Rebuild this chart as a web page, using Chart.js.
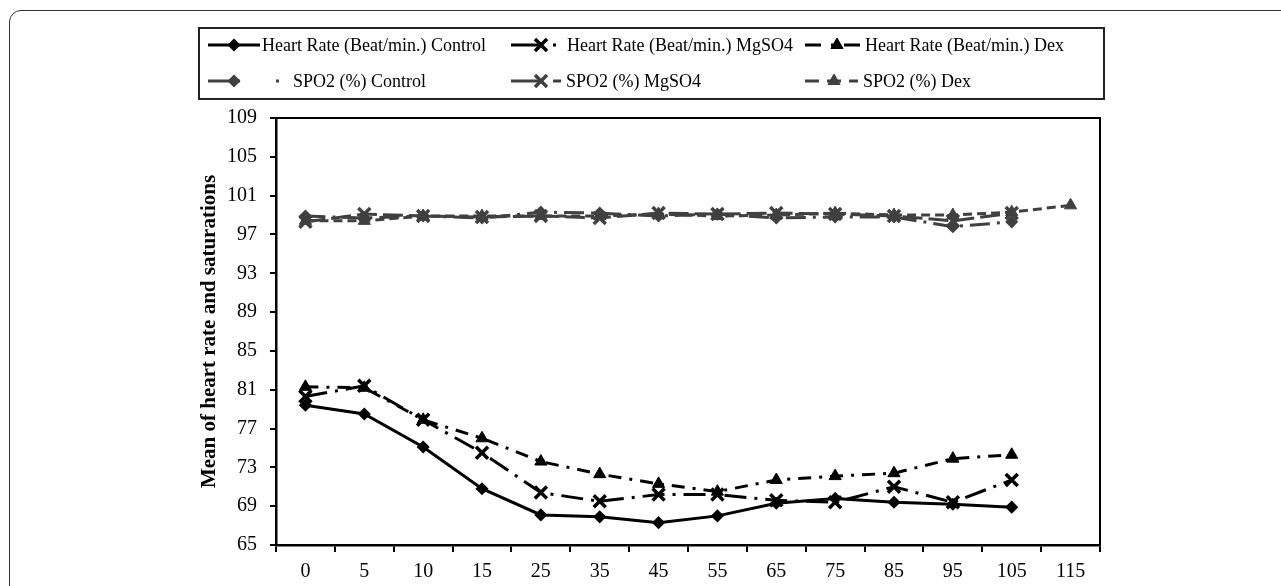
<!DOCTYPE html>
<html><head><meta charset="utf-8">
<script src="https://cdn.jsdelivr.net/npm/chart.js@4/dist/chart.umd.min.js"></script>
<style>
html,body{margin:0;padding:0;background:#fff;overflow:hidden;}
#wrap{position:relative;width:1281px;height:586px;overflow:hidden;}
#frame{position:absolute;left:9px;top:10px;width:1400px;height:700px;border:1.5px solid #333;border-radius:12px;box-sizing:border-box;}
canvas{position:absolute;left:0;top:0;}
</style></head><body>
<div id="wrap"><div id="frame"></div><canvas id="c" width="1281" height="586"></canvas></div>
<script>
// ---- data ----
const categories = ['0','5','10','15','25','35','45','55','65','75','85','95','105','115'];
const hrControl  = [79.4, 78.5, 75.1, 70.8, 68.1, 67.9, 67.3, 68.0, 69.3, 69.8, 69.4, 69.2, 68.9, null];
const hrMgSO4    = [80.3, 81.4, 77.9, 74.5, 70.4, 69.5, 70.2, 70.2, 69.6, 69.4, 71.0, 69.4, 71.7, null];
const hrDex      = [81.3, 81.2, 77.9, 76.0, 73.6, 72.3, 71.3, 70.5, 71.7, 72.1, 72.4, 73.9, 74.3, null];
const spo2Control= [98.9, 98.7, 98.9, 98.7, 99.3, 99.2, 98.9, 99.1, 98.7, 98.8, 98.8, 97.8, 98.3, null];
const spo2MgSO4  = [98.3, 99.1, 98.9, 98.8, 98.9, 98.7, 99.2, 99.1, 99.2, 99.1, 98.9, 98.4, 99.2, null];
const spo2Dex    = [98.4, 98.4, 98.9, 98.9, 98.9, 98.9, 99.1, 98.9, 99.0, 99.2, 99.0, 99.0, 99.3, 100.0];
const seriesLabels = ['Heart Rate (Beat/min.) Control','Heart Rate (Beat/min.) MgSO4','Heart Rate (Beat/min.) Dex',
                      'SPO2 (%) Control','SPO2 (%) MgSO4','SPO2 (%) Dex'];
const yMin = 65, yMax = 109, yStep = 4;
const yTitle = 'Mean of heart rate and saturations';

// ---- styles ----
const BLACK = '#000000', GRAY = '#404040';
function ds(label, data, color, dash, style, radius, pbw, width) {
  return { label, data, borderColor: color, backgroundColor: color, borderWidth: width, borderDash: dash,
    pointStyle: style, pointRadius: radius, pointHoverRadius: radius, pointBorderWidth: pbw,
    pointBackgroundColor: color, pointBorderColor: color, tension: 0, fill: false };
}
const datasets = [
  ds(seriesLabels[0], hrControl, BLACK, [], 'rectRot', 5.5, 1.5, 3),
  ds(seriesLabels[1], hrMgSO4, BLACK, [22,8,3,8], 'crossRot', 8.5, 3.5, 3),
  ds(seriesLabels[2], hrDex, BLACK, [13,8,3,8], 'triangle', 7, 1, 3),
  ds(seriesLabels[3], spo2Control, GRAY, [20,7,3,7], 'rectRot', 5.5, 1.5, 3),
  ds(seriesLabels[4], spo2MgSO4, GRAY, [20,6], 'crossRot', 8.5, 3.5, 3),
  ds(seriesLabels[5], spo2Dex, GRAY, [9,5], 'triangle', 7, 1, 3)
];

const legendSlots = [
  {x:208, y:45, len:52, m:26, tx:262, dash:null},
  {x:511, y:45, len:50, m:30, tx:567, dash:[30,12,3,12]},
  {x:805, y:45, len:56, m:32, tx:865, dash:[16,10,3,10]},
  {x:208, y:81, len:72, m:26, tx:293, dash:[32,36,3,10]},
  {x:511, y:81, len:50, m:30, tx:566, dash:[32,10]},
  {x:805, y:81, len:53, m:29, tx:863, dash:[14,8]}
];

function drawMarker(ctx, style, x, y, r, color, bw) {
  ctx.save(); ctx.setLineDash([]); ctx.fillStyle = color; ctx.strokeStyle = color; ctx.lineWidth = bw;
  ctx.beginPath();
  if (style === 'rectRot') {
    ctx.moveTo(x - r, y); ctx.lineTo(x, y - r); ctx.lineTo(x + r, y); ctx.lineTo(x, y + r); ctx.closePath();
    ctx.fill(); ctx.stroke();
  } else if (style === 'triangle') {
    let a = 0;
    ctx.moveTo(x + Math.sin(a) * r, y - Math.cos(a) * r);
    a += 2 * Math.PI / 3; ctx.lineTo(x + Math.sin(a) * r, y - Math.cos(a) * r);
    a += 2 * Math.PI / 3; ctx.lineTo(x + Math.sin(a) * r, y - Math.cos(a) * r);
    ctx.closePath(); ctx.fill(); ctx.stroke();
  } else if (style === 'crossRot') {
    const d = r * Math.SQRT1_2;
    ctx.moveTo(x - d, y - d); ctx.lineTo(x + d, y + d);
    ctx.moveTo(x + d, y - d); ctx.lineTo(x - d, y + d); ctx.stroke();
  }
  ctx.restore();
}

const legendPlugin = {
  id: 'gridLegend',
  afterDraw(chart) {
    const ctx = chart.ctx;
    ctx.save();
    ctx.strokeStyle = '#222'; ctx.lineWidth = 2;
    ctx.strokeRect(199, 28, 905, 71);
    chart.data.datasets.forEach((d, i) => {
      const s = legendSlots[i];
      ctx.save();
      ctx.strokeStyle = d.borderColor; ctx.lineWidth = d.borderWidth;
      ctx.setLineDash(s.dash || d.borderDash || []);
      ctx.beginPath(); ctx.moveTo(s.x, s.y); ctx.lineTo(s.x + s.len, s.y); ctx.stroke();
      ctx.restore();
      drawMarker(ctx, d.pointStyle, s.x + s.m, s.y, d.pointRadius, d.pointBackgroundColor, d.pointBorderWidth);
      ctx.fillStyle = '#000';
      ctx.font = '18px "Liberation Serif", "Times New Roman", serif';
      ctx.textBaseline = 'middle'; ctx.textAlign = 'left';
      ctx.fillText(d.label, s.tx, s.y + 1);
    });
    ctx.restore();
  }
};

const frameBorder = {
  id: 'frameBorder',
  afterDatasetsDraw(chart) {
    const {ctx, chartArea: a} = chart;
    ctx.save(); ctx.strokeStyle = '#000'; ctx.lineWidth = 2;
    ctx.beginPath();
    ctx.moveTo(a.left, a.top); ctx.lineTo(a.right, a.top); ctx.lineTo(a.right, a.bottom);
    ctx.stroke(); ctx.restore();
  }
};

const tickFont = { family: '"Liberation Serif", "Times New Roman", serif', size: 20 };

new Chart(document.getElementById('c'), {
  type: 'line',
  data: { labels: categories, datasets },
  options: {
    responsive: false, animation: false,
    layout: { padding: { left: 197, top: 118, right: 181, bottom: 0 } },
    plugins: { legend: { display: false }, tooltip: { enabled: false }, title: { display: false } },
    scales: {
      x: {
        offset: true,
        grid: { display: true, drawOnChartArea: false, drawTicks: true, tickLength: 7, color: '#000', lineWidth: 2, offset: true },
        border: { display: true, color: '#000', width: 2.5 },
        ticks: { color: '#000', font: tickFont, padding: 8, maxRotation: 0, autoSkip: false },
        afterFit(scale) { scale.height = 41; }
      },
      y: {
        min: yMin, max: yMax,
        grid: { display: true, drawOnChartArea: false, drawTicks: true, tickLength: 6, color: '#000', lineWidth: 2 },
        border: { display: true, color: '#000', width: 2.5 },
        ticks: { stepSize: yStep, color: '#000', font: tickFont, padding: 13, autoSkip: false },
        title: { display: true, text: yTitle, color: '#000', padding: { top: 0, bottom: 0 },
                 font: { family: '"Liberation Serif", "Times New Roman", serif', size: 21, weight: 'bold' } },
        afterFit(scale) { scale.width = 79; }
      }
    }
  },
  plugins: [legendPlugin, frameBorder]
});
</script>
</body></html>
